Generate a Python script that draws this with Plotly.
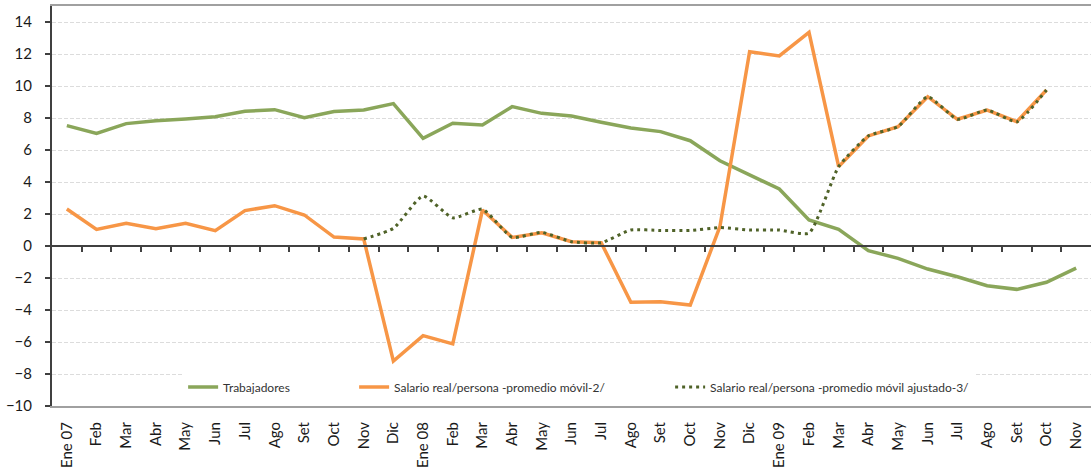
import plotly.graph_objects as go

months = ["Ene 07", "Feb", "Mar", "Abr", "May", "Jun", "Jul", "Ago", "Set", "Oct", "Nov", "Dic",
          "Ene 08", "Feb", "Mar", "Abr", "May", "Jun", "Jul", "Ago", "Set", "Oct", "Nov", "Dic",
          "Ene 09", "Feb", "Mar", "Abr", "May", "Jun", "Jul", "Ago", "Set", "Oct", "Nov"]

trabajadores = [7.52, 7.04, 7.65, 7.83, 7.94, 8.08, 8.42, 8.52, 8.02, 8.40, 8.50, 8.90,
                6.73, 7.67, 7.56, 8.71, 8.29, 8.12, 7.73, 7.37, 7.15, 6.58, 5.33, 4.44,
                3.56, 1.63, 1.04, -0.29, -0.77, -1.44, -1.92, -2.48, -2.71, -2.27, -1.38]

salario_movil = [2.31, 1.04, 1.42, 1.08, 1.42, 0.96, 2.21, 2.52, 1.94, 0.56, 0.44, -7.19,
                 -5.60, -6.12, 2.25, 0.54, 0.83, 0.27, 0.21, -3.52, -3.48, -3.69, 1.21, 12.14,
                 11.88, 13.35, 4.96, 6.88, 7.46, 9.33, 7.92, 8.50, 7.77, 9.75, None]

salario_ajustado = [None, None, None, None, None, None, None, None, None, None, 0.44, 1.10,
                    3.13, 1.76, 2.30, 0.54, 0.85, 0.27, 0.20, 1.00, 0.97, 0.97, 1.15, 1.00,
                    1.00, 0.80, 4.96, 6.88, 7.46, 9.33, 7.92, 8.50, 7.77, 9.75, None]

names = ["Trabajadores",
         "Salario real/persona -promedio móvil-2/",
         "Salario real/persona -promedio móvil ajustado-3/"]

y_ticks = [-10, -8, -6, -4, -2, 0, 2, 4, 6, 8, 10, 12, 14]
y_range = [-10, 15]

idx = list(range(len(months)))
boundaries = [i + 0.5 for i in idx[:-1]]
x_range = [idx[0] - 0.5, idx[-1] + 0.5]

FONT = "Lato"

fig = go.Figure()
fig.add_trace(go.Scatter(x=idx, y=trabajadores, name=names[0], mode="lines",
                         line=dict(color="#8aa65a", width=3.5), legendwidth=126))
fig.add_trace(go.Scatter(x=idx, y=salario_movil, name=names[1], mode="lines",
                         line=dict(color="#f79646", width=3.5), legendwidth=271))
fig.add_trace(go.Scatter(x=idx, y=salario_ajustado, name=names[2], mode="lines",
                         xaxis="x2", yaxis="y",
                         line=dict(color="#4f6228", width=3, dash="3px,4px",
                                   shape="spline", smoothing=0.5)))

zero_pos = (0 - y_range[0]) / (y_range[1] - y_range[0])

fig.update_layout(
    width=1091, height=474,
    margin=dict(l=52, r=0, t=6, b=68, autoexpand=False),
    paper_bgcolor="white", plot_bgcolor="white",
    font=dict(family=FONT, size=15, color="#1a1a1a"),
    showlegend=True,
    legend=dict(orientation="h", x=0.1262, xanchor="left", y=0.0475, yanchor="middle",
                bgcolor="white", font=dict(family=FONT, size=12, color="#333333"),
                borderwidth=0),
    xaxis=dict(range=x_range, tickmode="array", tickvals=idx, ticktext=months,
               tickangle=-90, showgrid=False, zeroline=False, automargin=False,
               showline=True, linecolor="#a0a0a0", linewidth=2, mirror=True,
               ticks="", ticklabelstandoff=8,
               tickfont=dict(family=FONT, size=15, color="#1a1a1a")),
    xaxis2=dict(overlaying="x", anchor="free", position=zero_pos, side="bottom",
                range=x_range, tickmode="array", tickvals=boundaries, automargin=False,
                showticklabels=False, ticks="outside", ticklen=5, tickwidth=1.5,
                tickcolor="#404040", showline=True, linecolor="#404040", linewidth=1.5,
                showgrid=False, zeroline=False),
    yaxis=dict(range=y_range, tickmode="array", tickvals=y_ticks, automargin=False,
               showgrid=True, gridcolor="#dcdcdc", gridwidth=1, griddash="4px,2px",
               zeroline=False, showline=True, linecolor="#404040", linewidth=2,
               ticks="outside", ticklen=5, tickcolor="#404040", tickwidth=1.5,
               ticklabelstandoff=10,
               tickfont=dict(family=FONT, size=15, color="#1a1a1a")),
)

fig.write_html("out.html", config={"displayModeBar": False},
               post_script="document.body.style.margin='0px';")
